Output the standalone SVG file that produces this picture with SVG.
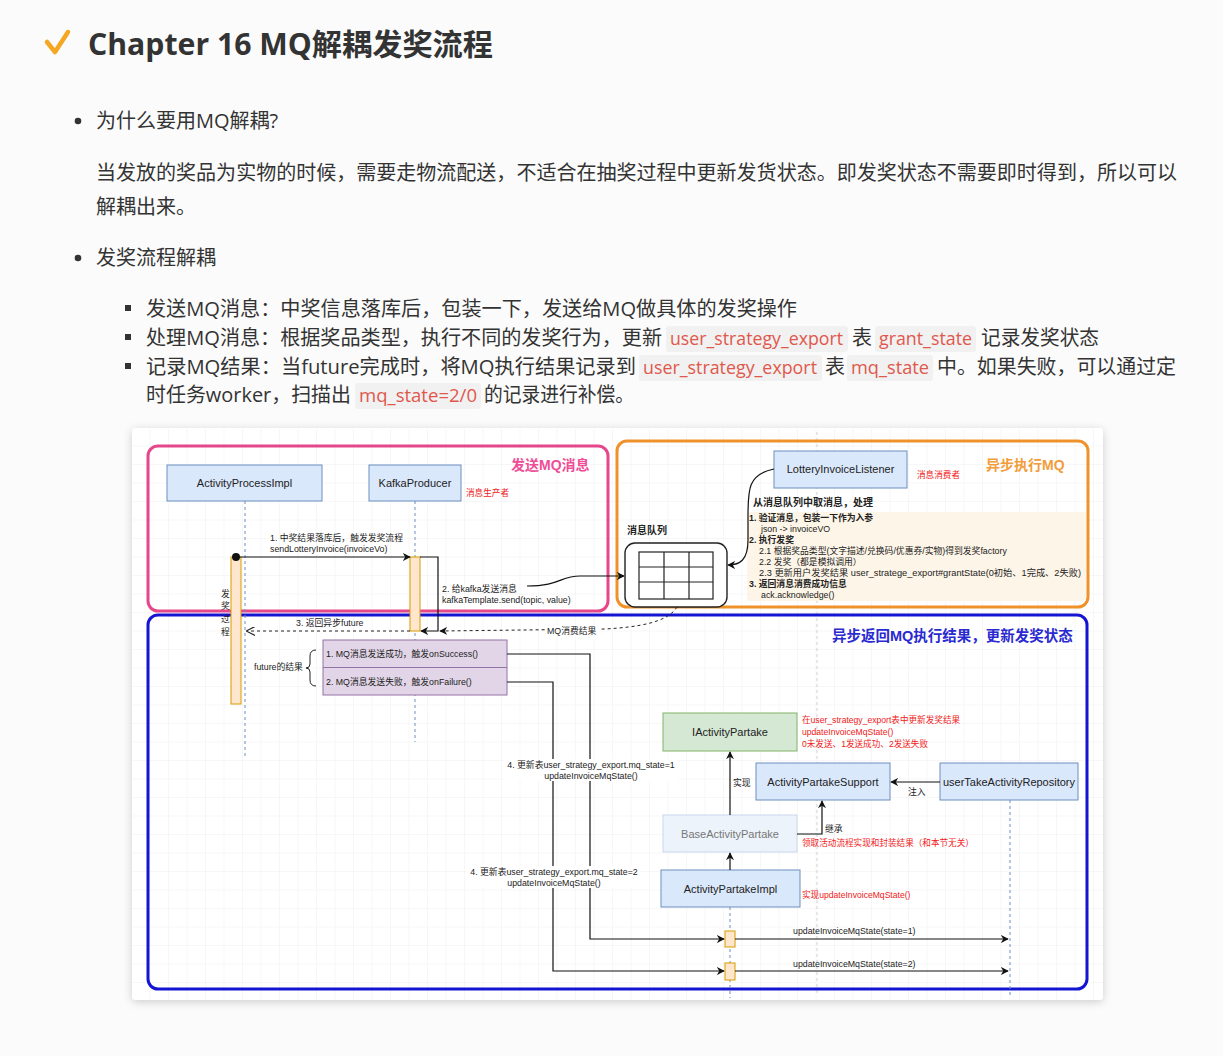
<svg xmlns="http://www.w3.org/2000/svg" width="1223" height="1056" viewBox="0 0 1223 1056">
<defs>
<style>
.body{font-family:"Open Sans","Noto Sans CJK SC",sans-serif;font-size:20px;fill:#333}
.code{font-family:"Open Sans","Noto Sans CJK SC",sans-serif;font-size:18px;fill:#e0584c}
.cbg{fill:#f1f1f1}
.d{font-family:"Liberation Sans","Noto Sans CJK SC",sans-serif;fill:#222}
.n{font-size:11px;text-anchor:middle}
.s{font-size:8.8px}
.r{font-size:8.6px;fill:#f02020}
.b{font-weight:bold}
.node{fill:#dae8fc;stroke:#6c8ebf;stroke-width:1}
.bar{fill:#ffe6cc;stroke:#d79b00;stroke-width:1}
.ll{stroke:#6c8ebf;stroke-width:1;stroke-dasharray:3 3;fill:none}
.ln{stroke:#111;stroke-width:1.2;fill:none}
</style>
<pattern id="grid" width="18.5" height="18.5" patternUnits="userSpaceOnUse" x="132" y="428">
<path d="M18.5 0 V18.5 M0 18.5 H18.5" stroke="#ebebeb" stroke-width="0.8" fill="none"/>
</pattern>
<marker id="fa" viewBox="0 0 10 10" refX="9" refY="5" markerWidth="8" markerHeight="8" orient="auto" markerUnits="userSpaceOnUse">
<path d="M0,0 L10,5 L0,10 L3,5 z" fill="#111"/>
</marker>
<marker id="oa" viewBox="0 0 10 10" refX="9" refY="5" markerWidth="9" markerHeight="9" orient="auto" markerUnits="userSpaceOnUse">
<path d="M0,0 L10,5 L0,10" fill="none" stroke="#222" stroke-width="1.3"/>
</marker>
<filter id="sh" x="-5%" y="-5%" width="110%" height="110%">
<feDropShadow dx="0" dy="2" stdDeviation="4" flood-color="#000" flood-opacity="0.18"/>
</filter>
</defs>
<rect width="1223" height="1056" fill="#fbfbfb"/>

<!-- Title -->
<g id="title">
<path d="M47,42 L55,52 L68,32" fill="none" stroke="#f5a623" stroke-width="4.5" stroke-linecap="round" stroke-linejoin="round"/>
<text x="88" y="55" font-family="'Open Sans','Noto Sans CJK SC',sans-serif" font-size="30" font-weight="bold" fill="#333" textLength="405" lengthAdjust="spacingAndGlyphs">Chapter 16 MQ解耦发奖流程</text>
</g>

<!-- Body text -->
<g id="text">
<circle cx="78" cy="121" r="3.3" fill="#333"/>
<text class="body" x="96" y="128">为什么要用MQ解耦?</text>
<text class="body" x="96" y="180" textLength="1081" lengthAdjust="spacingAndGlyphs">当发放的奖品为实物的时候，需要走物流配送，不适合在抽奖过程中更新发货状态。即发奖状态不需要即时得到，所以可以</text>
<text class="body" x="96" y="214">解耦出来。</text>
<circle cx="78" cy="258" r="3.3" fill="#333"/>
<text class="body" x="96" y="265">发奖流程解耦</text>

<rect x="125" y="305" width="6" height="6" fill="#333"/>
<text class="body" x="146" y="316" textLength="651" lengthAdjust="spacingAndGlyphs">发送MQ消息：中奖信息落库后，包装一下，发送给MQ做具体的发奖操作</text>

<rect x="125" y="334" width="6" height="6" fill="#333"/>
<text class="body" x="146" y="345" textLength="516" lengthAdjust="spacingAndGlyphs">处理MQ消息：根据奖品类型，执行不同的发奖行为，更新</text>
<rect class="cbg" x="666" y="326" width="182" height="26" rx="3"/>
<text class="code" x="670" y="345" textLength="173" lengthAdjust="spacingAndGlyphs">user_strategy_export</text>
<text class="body" x="852" y="345">表</text>
<rect class="cbg" x="875" y="326" width="101" height="26" rx="3"/>
<text class="code" x="879" y="345" textLength="93" lengthAdjust="spacingAndGlyphs">grant_state</text>
<text class="body" x="981" y="345" textLength="118" lengthAdjust="spacingAndGlyphs">记录发奖状态</text>

<rect x="125" y="363" width="6" height="6" fill="#333"/>
<text class="body" x="146" y="374" textLength="490" lengthAdjust="spacingAndGlyphs">记录MQ结果：当future完成时，将MQ执行结果记录到</text>
<rect class="cbg" x="639" y="355" width="183" height="26" rx="3"/>
<text class="code" x="643" y="374" textLength="174" lengthAdjust="spacingAndGlyphs">user_strategy_export</text>
<text class="body" x="825" y="374">表</text>
<rect class="cbg" x="847" y="355" width="86" height="26" rx="3"/>
<text class="code" x="851" y="374" textLength="78" lengthAdjust="spacingAndGlyphs">mq_state</text>
<text class="body" x="937" y="374" textLength="239" lengthAdjust="spacingAndGlyphs">中。如果失败，可以通过定</text>
<text class="body" x="146" y="402" textLength="205" lengthAdjust="spacingAndGlyphs">时任务worker，扫描出</text>
<rect class="cbg" x="355" y="383" width="126" height="26" rx="3"/>
<text class="code" x="359" y="402" textLength="118" lengthAdjust="spacingAndGlyphs">mq_state=2/0</text>
<text class="body" x="484" y="402" textLength="150" lengthAdjust="spacingAndGlyphs">的记录进行补偿。</text>
</g>

<!-- Diagram card -->
<g id="card">
<rect x="132" y="428" width="971" height="572" rx="4" fill="#fff" filter="url(#sh)"/>
<rect x="132" y="428" width="971" height="572" fill="url(#grid)"/>
<line x1="817" y1="432" x2="817" y2="996" stroke="#c8c8c8" stroke-width="0.8" stroke-dasharray="3 3"/>
</g>

<!-- Containers -->
<g id="box-send">
<rect x="148" y="446" width="460" height="165" rx="10" fill="none" stroke="#e6468a" stroke-width="3"/>
<text class="d b" x="511" y="470" font-size="14" fill="#ee4d97" style="fill:#ee4d97">发送MQ消息</text>
</g>
<g id="box-async">
<rect x="617" y="441" width="471" height="166" rx="10" fill="none" stroke="#f0922b" stroke-width="3"/>
<text class="d b" x="986" y="470" font-size="14" style="fill:#f39c3a">异步执行MQ</text>
</g>
<g id="box-result">
<rect x="148" y="615" width="939" height="374" rx="10" fill="none" stroke="#1414d2" stroke-width="3"/>
<text class="d b" x="832" y="641" font-size="14.5" style="fill:#2a2ad0">异步返回MQ执行结果，更新发奖状态</text>
</g>

<!-- Lifelines -->
<g id="lifelines">
<line class="ll" x1="245" y1="501" x2="245" y2="757"/>
<line class="ll" x1="415" y1="501" x2="415" y2="742"/>
<line class="ll" x1="730" y1="907" x2="730" y2="998"/>
<line class="ll" x1="1010" y1="800" x2="1010" y2="998"/>
</g>

<!-- Nodes -->
<g id="ActivityProcessImpl">
<rect class="node" x="167" y="465" width="155" height="36"/>
<text class="d n" x="244.5" y="487">ActivityProcessImpl</text>
</g>
<g id="KafkaProducer">
<rect class="node" x="369" y="465" width="92" height="36"/>
<text class="d n" x="415" y="487">KafkaProducer</text>
<text class="d r" x="466" y="496">消息生产者</text>
</g>
<g id="LotteryInvoiceListener">
<rect class="node" x="774" y="451" width="133" height="37"/>
<text class="d n" x="840.5" y="473">LotteryInvoiceListener</text>
<text class="d r" x="917" y="478">消息消费者</text>
</g>
<g id="bar-process">
<rect class="bar" x="231" y="557" width="10" height="147"/>
<text class="d s" x="221" y="597">发</text>
<text class="d s" x="221" y="609">奖</text>
<text class="d s" x="221" y="622">过</text>
<text class="d s" x="221" y="635">程</text>
</g>
<g id="bar-kafka">
<rect class="bar" x="410" y="557" width="10" height="74"/>
</g>
<g id="queue">
<text class="d b" x="627" y="534" font-size="10">消息队列</text>
<rect x="625" y="543" width="102" height="64" rx="10" fill="#fff" stroke="#222" stroke-width="1.4"/>
<rect x="639" y="552" width="74" height="47" fill="none" stroke="#222" stroke-width="1.2"/>
<path d="M664,552 V599 M689,552 V599 M639,567 H713 M639,582 H713" stroke="#222" stroke-width="1.2" fill="none"/>
</g>
<g id="consumer-notes">
<rect x="747" y="512" width="339" height="89" fill="#fdf5e7"/>
<text class="d b" x="753" y="506" font-size="10">从消息队列中取消息，处理</text>
<text class="d s b" x="749" y="521">1. 验证消息，包装一下作为入参</text>
<text class="d s" x="761" y="532">json -&gt; invoiceVO</text>
<text class="d s b" x="749" y="543">2. 执行发奖</text>
<text class="d s" x="759" y="554">2.1 根据奖品类型(文字描述/兑换码/优惠券/实物)得到发奖factory</text>
<text class="d s" x="759" y="565">2.2 发奖（都是模拟调用）</text>
<text class="d s" x="759" y="576" textLength="322" lengthAdjust="spacingAndGlyphs">2.3 更新用户发奖结果 user_stratege_export#grantState(0初始、1完成、2失败)</text>
<text class="d s b" x="749" y="587">3. 返回消息消费成功信息</text>
<text class="d s" x="761" y="598">ack.acknowledge()</text>
</g>
<g id="future-results">
<rect x="323" y="640" width="184" height="55" fill="#e1d5e7" stroke="#9673a6" stroke-width="1"/>
<line x1="323" y1="667.5" x2="507" y2="667.5" stroke="#9673a6" stroke-width="1"/>
<text class="d s" x="326" y="657">1. MQ消息发送成功，触发onSuccess()</text>
<text class="d s" x="326" y="685">2. MQ消息发送失败，触发onFailure()</text>
<path d="M316,650 Q310,650 310,656 L310,664 Q310,668 306,668 Q310,668 310,672 L310,680 Q310,686 316,686" fill="none" stroke="#222" stroke-width="1"/>
<text class="d s" x="254" y="670">future的结果</text>
</g>
<g id="IActivityPartake">
<rect x="663" y="713" width="134" height="38" fill="#d5e8d4" stroke="#82b366" stroke-width="1"/>
<text class="d n" x="730" y="736">IActivityPartake</text>
<text class="d r" x="802" y="723">在user_strategy_export表中更新发奖结果</text>
<text class="d r" x="802" y="735">updateInvoiceMqState()</text>
<text class="d r" x="802" y="747">0未发送、1发送成功、2发送失败</text>
</g>
<g id="ActivityPartakeSupport">
<rect class="node" x="756" y="763" width="134" height="37"/>
<text class="d n" x="823" y="786">ActivityPartakeSupport</text>
</g>
<g id="userTakeActivityRepository">
<rect class="node" x="940" y="763" width="138" height="37"/>
<text class="d n" x="1009" y="786">userTakeActivityRepository</text>
</g>
<g id="BaseActivityPartake">
<rect x="663" y="815" width="134" height="37" fill="#edf3fb" stroke="#c9d8ee" stroke-width="1"/>
<text class="d n" x="730" y="838" style="fill:#777">BaseActivityPartake</text>
<text class="d r" x="802" y="846">领取活动流程实现和封装结果（和本节无关）</text>
</g>
<g id="ActivityPartakeImpl">
<rect class="node" x="661" y="870" width="139" height="37"/>
<text class="d n" x="730.5" y="893">ActivityPartakeImpl</text>
<text class="d r" x="802" y="898">实现updateInvoiceMqState()</text>
</g>
<g id="bars-impl">
<rect class="bar" x="725" y="931" width="10" height="16"/>
<rect class="bar" x="725" y="963" width="10" height="17"/>
</g>

<!-- Connectors -->
<g id="connectors">
<circle cx="236" cy="557" r="4" fill="#111"/>
<line class="ln" x1="236" y1="557" x2="410" y2="557" marker-end="url(#fa)"/>
<text class="d s" x="270" y="541">1. 中奖结果落库后，触发发奖流程</text>
<text class="d s" x="270" y="552">sendLotteryInvoice(invoiceVo)</text>

<polyline class="ln" points="420,557 438,557 438,631 421,631" marker-end="url(#fa)"/>
<text class="d s" x="442" y="592">2. 给kafka发送消息</text>
<text class="d s" x="442" y="603">kafkaTemplate.send(topic, value)</text>
<path class="ln" d="M527,586 C560,586 560,576 580,576 L624,576" marker-end="url(#fa)"/>

<path class="ln" d="M774,469 C748,474 748,490 748,515 L748,540 C748,560 740,565 728,565" marker-end="url(#fa)"/>

<path d="M677,607 C668,622 640,627 605,629 L440,631" fill="none" stroke="#222" stroke-width="1" stroke-dasharray="3 3" marker-end="url(#fa)"/>
<rect x="545" y="625" width="55" height="11" fill="#fff"/>
<text class="d s" x="547" y="634">MQ消费结果</text>

<line x1="410" y1="631" x2="247" y2="631" stroke="#222" stroke-width="1" stroke-dasharray="3 3" marker-end="url(#oa)"/>
<text class="d s" x="296" y="626">3. 返回异步future</text>

<polyline class="ln" points="507,654 590,654 590,939 724,939" marker-end="url(#fa)"/>
<polyline class="ln" points="507,682 553,682 553,971 724,971" marker-end="url(#fa)"/>
<rect x="503" y="759" width="175" height="22" fill="#fff"/>
<text class="d s" x="591" y="768" text-anchor="middle">4. 更新表user_strategy_export.mq_state=1</text>
<text class="d s" x="591" y="779" text-anchor="middle">updateInvoiceMqState()</text>
<rect x="466" y="866" width="175" height="22" fill="#fff"/>
<text class="d s" x="554" y="875" text-anchor="middle">4. 更新表user_strategy_export.mq_state=2</text>
<text class="d s" x="554" y="886" text-anchor="middle">updateInvoiceMqState()</text>

<line class="ln" x1="735" y1="939" x2="1008" y2="939" marker-end="url(#fa)"/>
<text class="d s" x="793" y="934">updateInvoiceMqState(state=1)</text>
<line class="ln" x1="735" y1="971" x2="1008" y2="971" marker-end="url(#fa)"/>
<text class="d s" x="793" y="967">updateInvoiceMqState(state=2)</text>

<line class="ln" x1="730" y1="815" x2="730" y2="752" marker-end="url(#fa)"/>
<text class="d s" x="733" y="786">实现</text>
<line class="ln" x1="940" y1="782" x2="891" y2="782" marker-end="url(#fa)"/>
<text class="d s" x="908" y="795">注入</text>
<polyline class="ln" points="797,834 822,834 822,801" marker-end="url(#fa)"/>
<text class="d s" x="825" y="832">继承</text>
<line class="ln" x1="730" y1="870" x2="730" y2="853" marker-end="url(#fa)"/>
</g>
</svg>
